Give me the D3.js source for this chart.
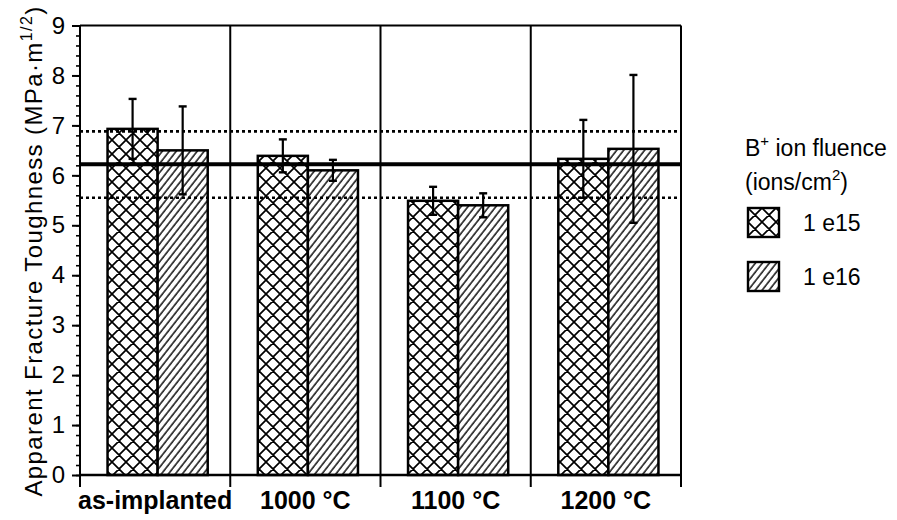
<!DOCTYPE html>
<html>
<head>
<meta charset="utf-8">
<script src="https://d3js.org/d3.v7.min.js"></script>
<style>
  body { margin: 0; background: #fff; }
  text { font-family: "Liberation Sans", Arial, sans-serif; fill: #000; }
</style>
</head>
<body>
<div id="chart"></div>
<script>
// chart values
var groups = ["as-implanted", "1000 \u00B0C", "1100 \u00B0C", "1200 \u00B0C"];
var fluences = ["1 e15", "1 e16"];
var tough15 = [6.93, 6.39, 5.49, 6.33];
var tough16 = [6.50, 6.10, 5.40, 6.53];
var err15 = [0.60, 0.33, 0.28, 0.78];
var err16 = [0.88, 0.21, 0.24, 1.48];
var meanLevel = 6.22;
var bandLevels = [6.88, 5.55];
var yTicks = [0, 1, 2, 3, 4, 5, 6, 7, 8, 9];

function drawChart() {
    var width = 897, height = 520;
    var pLeft = 80, pRight = 681, pTop = 25.5, pBottom = 475;

    var svg = d3.select("#chart")
        .append("svg")
        .attr("width", width)
        .attr("height", height);

    // patterns
    var defs = svg.append("defs");
    var cross = defs.append("pattern")
        .attr("id", "cross")
        .attr("patternUnits", "userSpaceOnUse")
        .attr("width", 14)
        .attr("height", 14);
    cross.append("rect").attr("width", 14).attr("height", 14).attr("fill", "#fff");
    cross.append("path")
        .attr("d", "M0,0L14,14M14,0L0,14M-1,13L1,15M13,-1L15,1M-1,1L1,-1M13,15L15,13")
        .attr("stroke", "#000")
        .attr("stroke-width", 1.7);

    var hatch = defs.append("pattern")
        .attr("id", "hatch")
        .attr("patternUnits", "userSpaceOnUse")
        .attr("width", 5.5)
        .attr("height", 10)
        .attr("patternTransform", "rotate(38)");
    hatch.append("rect").attr("width", 5.5).attr("height", 10).attr("fill", "#fff");
    hatch.append("line")
        .attr("x1", 1).attr("x2", 1).attr("y1", 0).attr("y2", 10)
        .attr("stroke", "#000")
        .attr("stroke-width", 1.4);

    var fills = ["url(#cross)", "url(#hatch)"];

    // scales
    var x0 = d3.scaleBand()
        .domain(groups)
        .range([pLeft, pRight])
        .paddingInner(0)
        .paddingOuter(0);

    var x1 = d3.scaleBand()
        .domain(fluences)
        .range([0, x0.bandwidth()])
        .paddingInner(0)
        .paddingOuter(0.5)
        .align(0.55);

    var y = d3.scaleLinear()
        .domain([0, 9])
        .range([pBottom, pTop]);

    var rows = [];
    groups.forEach(function(g, i) {
        rows.push({group: g, fluence: fluences[0], value: tough15[i], err: err15[i]});
        rows.push({group: g, fluence: fluences[1], value: tough16[i], err: err16[i]});
    });

    // bars
    svg.append("g")
        .selectAll("rect")
        .data(rows)
        .enter()
        .append("rect")
        .attr("x", function(d) { return x0(d.group) + x1(d.fluence); })
        .attr("y", function(d) { return y(d.value); })
        .attr("width", x1.bandwidth())
        .attr("height", function(d) { return pBottom - y(d.value); })
        .attr("fill", function(d) { return fills[fluences.indexOf(d.fluence)]; })
        .attr("stroke", "#000")
        .attr("stroke-width", 2.5);

    // plot frame and group separators
    var bounds = groups.map(function(g) { return x0(g); }).concat([pRight]);
    svg.append("g")
        .selectAll("line")
        .data(bounds.slice(1))
        .enter()
        .append("line")
        .attr("x1", function(d) { return d; })
        .attr("x2", function(d) { return d; })
        .attr("y1", pTop)
        .attr("y2", pBottom)
        .attr("stroke", "#000")
        .attr("stroke-width", 2);

    svg.append("line")
        .attr("x1", pLeft).attr("x2", pRight)
        .attr("y1", pTop).attr("y2", pTop)
        .attr("stroke", "#000").attr("stroke-width", 2.2);

    // boundary ticks below the x axis
    svg.append("g")
        .selectAll("line")
        .data(bounds)
        .enter()
        .append("line")
        .attr("x1", function(d) { return d; })
        .attr("x2", function(d) { return d; })
        .attr("y1", pBottom)
        .attr("y2", pBottom + 12)
        .attr("stroke", "#000")
        .attr("stroke-width", 2);

    // reference lines
    svg.append("g")
        .selectAll("line")
        .data(bandLevels)
        .enter()
        .append("line")
        .attr("x1", pLeft).attr("x2", pRight)
        .attr("y1", function(d) { return y(d); })
        .attr("y2", function(d) { return y(d); })
        .attr("stroke", "#000")
        .attr("stroke-width", 2.6)
        .attr("stroke-dasharray", "3,3");

    svg.append("line")
        .attr("x1", pLeft).attr("x2", pRight)
        .attr("y1", y(meanLevel)).attr("y2", y(meanLevel))
        .attr("stroke", "#000")
        .attr("stroke-width", 4);

    // error bars
    var eb = svg.append("g")
        .selectAll("g")
        .data(rows)
        .enter()
        .append("g")
        .attr("transform", function(d) {
            return "translate(" + (x0(d.group) + x1(d.fluence) + x1.bandwidth() / 2) + ",0)";
        });
    eb.append("line")
        .attr("y1", function(d) { return y(d.value + d.err); })
        .attr("y2", function(d) { return y(d.value - d.err); })
        .attr("stroke", "#000")
        .attr("stroke-width", 2.2);
    eb.append("line")
        .attr("x1", -4).attr("x2", 4)
        .attr("y1", function(d) { return y(d.value + d.err); })
        .attr("y2", function(d) { return y(d.value + d.err); })
        .attr("stroke", "#000")
        .attr("stroke-width", 2.4);
    eb.append("line")
        .attr("x1", -4).attr("x2", 4)
        .attr("y1", function(d) { return y(d.value - d.err); })
        .attr("y2", function(d) { return y(d.value - d.err); })
        .attr("stroke", "#000")
        .attr("stroke-width", 2.4);

    // y axis
    var minor = svg.append("g")
        .attr("transform", "translate(" + pLeft + ",0)")
        .call(d3.axisLeft(y).tickValues(d3.range(0, 45).map(function(i) { return i / 5; })).tickSize(4).tickFormat(""));
    minor.select(".domain").remove();
    minor.selectAll("line").attr("stroke-width", 1.6);

    var yAxis = svg.append("g")
        .attr("transform", "translate(" + pLeft + ",0)")
        .call(d3.axisLeft(y).tickValues(yTicks).tickSize(8).tickSizeOuter(0).tickPadding(7).tickFormat(d3.format("d")));
    yAxis.select(".domain").attr("stroke-width", 2).attr("d", "M0," + pTop + "V" + (pBottom + 12));
    yAxis.selectAll("line").attr("stroke-width", 2);
    yAxis.selectAll("text")
        .attr("font-size", "24px")
        .attr("font-family", "Liberation Sans, Arial, sans-serif");

    // x axis
    var xAxis = svg.append("g")
        .attr("transform", "translate(0," + pBottom + ")")
        .call(d3.axisBottom(x0).tickSize(0).tickPadding(16));
    xAxis.select(".domain").attr("stroke-width", 2.4).attr("d", "M" + pLeft + ",0H" + pRight);
    xAxis.selectAll("text")
        .attr("font-size", "25px")
        .attr("font-weight", "bold")
        .attr("font-family", "Liberation Sans, Arial, sans-serif");

    // y axis title
    var yt = svg.append("text")
        .attr("transform", "translate(42,251) rotate(-90)")
        .attr("text-anchor", "middle")
        .attr("font-size", "24px")
        .attr("letter-spacing", "1.4px");
    yt.append("tspan").text("Apparent Fracture Toughness (MPa\u00B7m");
    yt.append("tspan").attr("font-size", "16px").attr("dy", "-10").text("1/2");
    yt.append("tspan").attr("dy", "10").text(")");

    // legend
    var legend = svg.append("g");
    var lt = legend.append("text")
        .attr("x", 745).attr("y", 156)
        .attr("font-size", "23px");
    lt.append("tspan").text("B");
    lt.append("tspan").attr("font-size", "15px").attr("dy", "-10").text("+");
    lt.append("tspan").attr("dy", "10").text(" ion fluence");

    var lt2 = legend.append("text")
        .attr("x", 745).attr("y", 190)
        .attr("font-size", "23px");
    lt2.append("tspan").text("(ions/cm");
    lt2.append("tspan").attr("font-size", "15px").attr("dy", "-10").text("2");
    lt2.append("tspan").attr("dy", "10").text(")");

    var items = legend.selectAll(".item")
        .data(fluences)
        .enter()
        .append("g")
        .attr("class", "item")
        .attr("transform", function(d, i) { return "translate(748," + (208 + i * 54) + ")"; });
    items.append("rect")
        .attr("width", 31)
        .attr("height", 29)
        .attr("fill", function(d, i) { return fills[i]; })
        .attr("stroke", "#000")
        .attr("stroke-width", 2.4);
    items.append("text")
        .attr("x", 55)
        .attr("y", 23)
        .attr("font-size", "23px")
        .text(function(d) { return d; });
}

drawChart();
</script>
</body>
</html>
